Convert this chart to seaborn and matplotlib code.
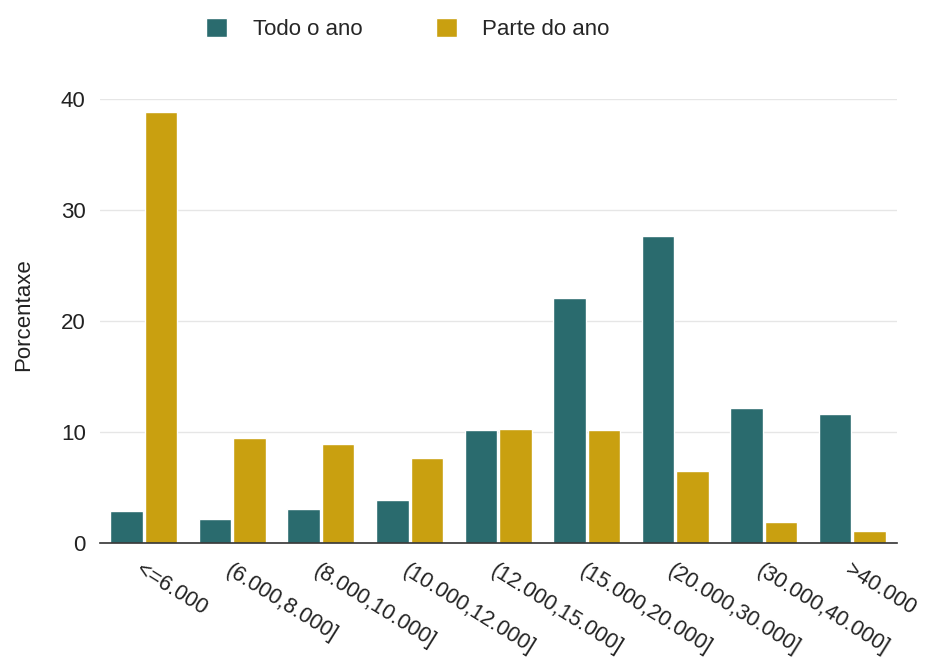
import pandas as pd
import matplotlib
matplotlib.use("Agg")
import matplotlib.pyplot as plt
import seaborn as sns

categories = ['<=6.000', '(6.000,8.000]', '(8.000,10.000]', '(10.000,12.000]',
              '(12.000,15.000]', '(15.000,20.000]', '(20.000,30.000]',
              '(30.000,40.000]', '>40.000']
todo_o_ano = [2.9, 2.2, 3.1, 3.9, 10.2, 22.1, 27.7, 12.2, 11.6]
parte_do_ano = [38.8, 9.5, 8.9, 7.7, 10.3, 10.2, 6.5, 1.9, 1.1]
series = ['Todo o ano', 'Parte do ano']
colors = ['#2a6b6e', '#c9a010']

df = pd.DataFrame({
    'cat': categories * 2,
    'val': todo_o_ano + parte_do_ano,
    'serie': [series[0]] * len(categories) + [series[1]] * len(categories),
})

sns.set_style('white')
plt.rcParams['font.family'] = ['Liberation Sans', 'DejaVu Sans']

fig = plt.figure(figsize=(9.31, 6.69), dpi=100)
ax = fig.add_axes([0.107, 0.188, 0.856, 0.664])

sns.barplot(data=df, x='cat', y='val', hue='serie', palette=colors,
            width=0.78, gap=0.06, ax=ax, saturation=1, legend=True)

ax.set_ylim(0, 40)
ax.set_xlim(-0.5, len(categories) - 0.5)
ax.set_yticks([0, 10, 20, 30, 40])
ax.yaxis.grid(True, color='#e6e6e6', linewidth=1)
ax.set_axisbelow(True)
for s in ['top', 'right', 'left']:
    ax.spines[s].set_visible(False)
ax.spines['bottom'].set_color('#333333')
ax.spines['bottom'].set_linewidth(1.2)
ax.tick_params(axis='y', length=5, color='#cccccc', labelsize=16, colors='#222222', pad=5)
ax.tick_params(axis='x', length=0, labelsize=15.5, colors='#222222', pad=12)
plt.setp(ax.get_xticklabels(), rotation=-32, ha='left', va='top', rotation_mode='anchor')

ax.set_xlabel('')
ax.set_ylabel('Porcentaxe', fontsize=16, color='#222222')
ax.yaxis.set_label_coords(-0.082, 0.514)

handles, labels = ax.get_legend_handles_labels()
ax.legend(handles, labels, loc='center', bbox_to_anchor=(0.387, 1.158),
          ncol=2, frameon=False, fontsize=16, handlelength=0.95, handleheight=0.95,
          columnspacing=3.3, handletextpad=1.15)

fig.savefig('out.png', dpi=100)
